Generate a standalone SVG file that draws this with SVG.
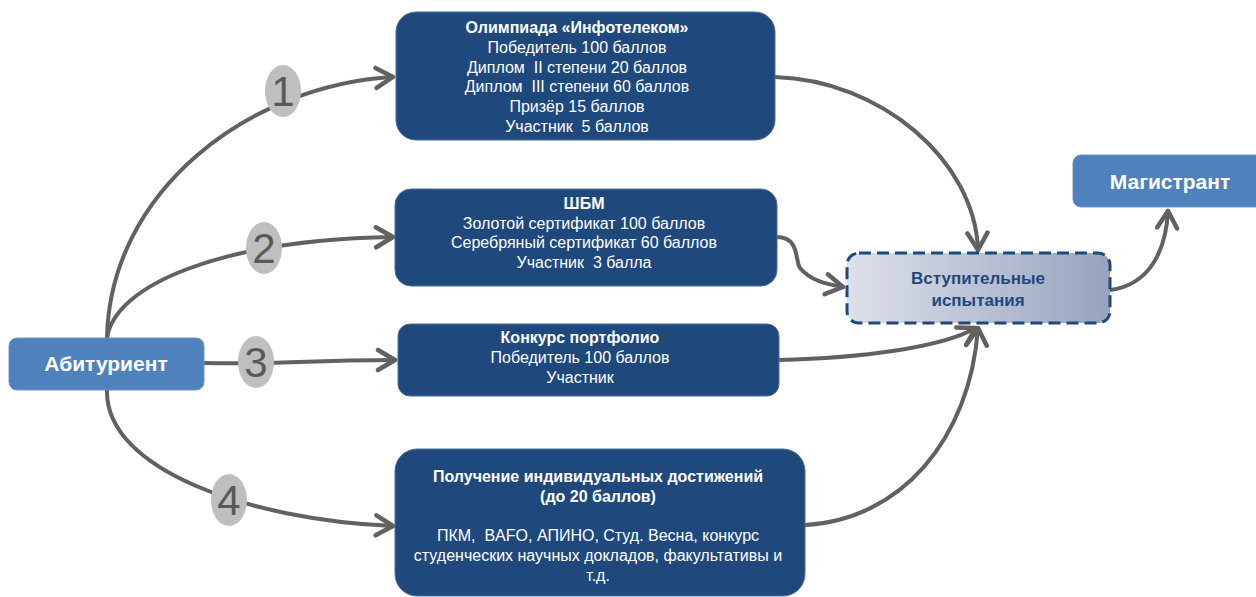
<svg xmlns="http://www.w3.org/2000/svg" width="1256" height="597" viewBox="0 0 1256 597">
<defs>
<style>
.dark{fill:#1F497D;stroke:#4A6E9C;stroke-width:1}
.light{fill:#4F81BD;stroke:#6A93C6;stroke-width:1}
.t{font-family:"Liberation Sans",Arial,sans-serif;font-size:16px;fill:#FFFFFF;text-anchor:middle;white-space:pre}
.b{font-weight:bold}
.ex{font-family:"Liberation Sans",Arial,sans-serif;font-size:17px;font-weight:bold;fill:#1F497D;text-anchor:middle}
.big{font-family:"Liberation Sans",Arial,sans-serif;font-size:21px;font-weight:bold;fill:#FFFFFF;text-anchor:middle}
.num{font-family:"Liberation Sans",Arial,sans-serif;font-size:42px;fill:#595959;text-anchor:middle}
.badge{fill:#BFBFBF}
.conn{fill:none;stroke:#616161;stroke-width:4;stroke-linecap:round;marker-end:url(#arr)}
</style>
<marker id="arr" markerUnits="userSpaceOnUse" markerWidth="30" markerHeight="30" viewBox="-20 -15 30 30" refX="0" refY="0" orient="auto">
<path d="M-17,-10 L0,0 L-17,10" fill="none" stroke="#616161" stroke-width="4.5" stroke-linecap="round" stroke-linejoin="round"/>
</marker>
<linearGradient id="grad" x1="0" y1="0" x2="1" y2="0">
<stop offset="0" stop-color="#DDE1EA"/>
<stop offset="1" stop-color="#97A3BF"/>
</linearGradient>
</defs>

<g id="connectors">
<path class="conn" d="M107,338 C110,190 250,85 393,77"/>
<path class="conn" d="M107,338 C115,285 220,240 393,237"/>
<path class="conn" d="M204,363 C280,365 300,360 395,360"/>
<path class="conn" d="M107,390 C105,470 250,520 393,526"/>
<path class="conn" d="M775,77 C880,80 975,160 978,250"/>
<path class="conn" d="M777,237 C800,237 795,262 800,268 C810,280 825,284 843,287"/>
<path class="conn" d="M779,360 C860,358 940,348 976,328"/>
<path class="conn" d="M805,525 C900,520 970,440 978,328"/>
<path class="conn" d="M1110,290 C1150,285 1166,250 1168,211"/>
</g>

<g id="badges">
<g id="badge1"><ellipse class="badge" cx="283" cy="91" rx="18" ry="26"/><text class="num" x="283" y="106">1</text></g>
<g id="badge2"><ellipse class="badge" cx="264" cy="248" rx="18" ry="26"/><text class="num" x="264" y="263">2</text></g>
<g id="badge3"><ellipse class="badge" cx="256" cy="362" rx="18" ry="26"/><text class="num" x="256" y="377">3</text></g>
<g id="badge4"><ellipse class="badge" cx="229" cy="500" rx="18" ry="26"/><text class="num" x="229" y="515">4</text></g>
</g>

<g id="abiturient">
<rect class="light" x="9" y="338" width="195" height="52" rx="8"/>
<text class="big" x="106" y="371">Абитуриент</text>
</g>

<g id="magistrant">
<rect class="light" x="1073" y="155" width="200" height="52" rx="8"/>
<text class="big" x="1170" y="189">Магистрант</text>
</g>

<g id="exams">
<rect x="847" y="253" width="263" height="70" rx="12" fill="url(#grad)" stroke="#1F497D" stroke-width="3" stroke-dasharray="12 6"/>
<text class="ex" x="978" y="284">Вступительные</text>
<text class="ex" x="978" y="306">испытания</text>
</g>

<g id="olympiad">
<rect class="dark" x="396" y="12" width="379" height="128" rx="20"/>
<text class="t b" x="577" y="33">Олимпиада «Инфотелеком»</text>
<text class="t" x="577" y="53">Победитель 100 баллов</text>
<text class="t" x="577" y="73" xml:space="preserve">Диплом  II степени 20 баллов</text>
<text class="t" x="577" y="92" xml:space="preserve">Диплом  III степени 60 баллов</text>
<text class="t" x="577" y="112">Призёр 15 баллов</text>
<text class="t" x="577" y="132" xml:space="preserve">Участник  5 баллов</text>
</g>

<g id="shbm">
<rect class="dark" x="395" y="189" width="382" height="97" rx="16"/>
<text class="t b" x="584" y="209">ШБМ</text>
<text class="t" x="584" y="229">Золотой сертификат 100 баллов</text>
<text class="t" x="584" y="248">Серебряный сертификат 60 баллов</text>
<text class="t" x="584" y="268" xml:space="preserve">Участник  3 балла</text>
</g>

<g id="portfolio">
<rect class="dark" x="398" y="324" width="381" height="72" rx="12"/>
<text class="t b" x="580" y="343">Конкурс портфолио</text>
<text class="t" x="580" y="363">Победитель 100 баллов</text>
<text class="t" x="580" y="383">Участник</text>
</g>

<g id="individual">
<rect class="dark" x="395" y="449" width="410" height="147" rx="22"/>
<text class="t b" x="598" y="482">Получение индивидуальных достижений</text>
<text class="t b" x="598" y="502">(до 20 баллов)</text>
<text class="t" x="598" y="541" xml:space="preserve">ПКМ,  BAFO, АПИНО, Студ. Весна, конкурс</text>
<text class="t" x="598" y="561">студенческих научных докладов, факультативы и</text>
<text class="t" x="598" y="581">т.д.</text>
</g>
</svg>
